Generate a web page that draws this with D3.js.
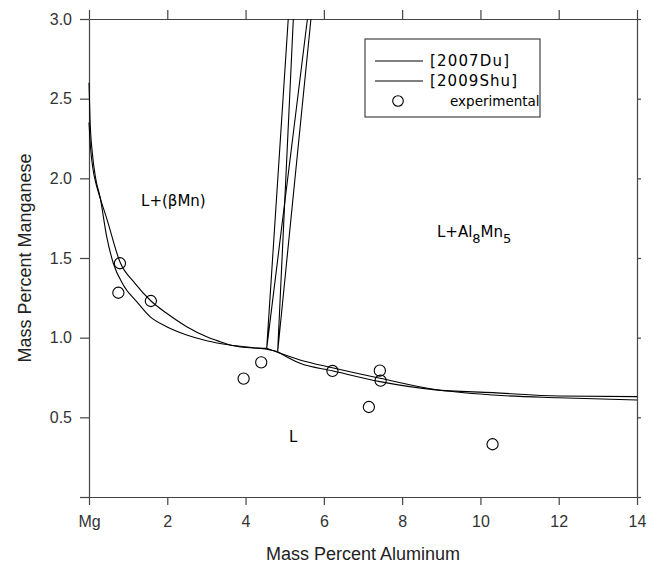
<!DOCTYPE html>
<html>
<head>
<meta charset="utf-8">
<script src="https://cdn.jsdelivr.net/npm/d3@7"></script>
<style>
  body { margin: 0; background: #fff; }
</style>
</head>
<body>
<div id="chart"></div>
<script>
var width = 658;
var height = 568;

// axis ticks
var xTicks = [0, 2, 4, 6, 8, 10, 12, 14];
var yTicks = [0, 0.5, 1.0, 1.5, 2.0, 2.5, 3.0];

// liquidus, L / L+(bMn) side
var duLeft = [[0, 2.35], [0.04, 2.19], [0.1, 2.06], [0.18, 1.965], [0.3, 1.865], [0.45, 1.75],
  [0.792, 1.475], [1.175, 1.341], [1.584, 1.230], [1.985, 1.153], [2.496, 1.069], [3.007, 1.006],
  [3.347, 0.975], [3.602, 0.954], [4.198, 0.935], [4.54, 0.933]];
var shuLeft = [[0, 2.60], [0.026, 2.37], [0.085, 2.16], [0.17, 2.0], [0.281, 1.885], [0.452, 1.634],
  [0.621, 1.467], [0.876, 1.331], [1.219, 1.226], [1.558, 1.132], [1.985, 1.069], [2.496, 1.017],
  [3.007, 0.981], [3.602, 0.954], [4.198, 0.937], [4.54, 0.927], [4.82, 0.912]];

// liquidus, L / L+Al8Mn5 side
var duRight = [[4.54, 0.933], [5.391, 0.860], [6.216, 0.811], [7.435, 0.745], [8.8, 0.676],
  [10.33, 0.640], [12, 0.623], [14, 0.609]];
var shuRight = [[4.82, 0.912], [5.391, 0.839], [6.216, 0.792], [7.435, 0.724], [8.8, 0.674],
  [10.33, 0.655], [12, 0.634], [14, 0.630]];

// three phase triangles
var duTie = [[5.09, 3.0], [4.54, 0.933], [5.58, 3.0]];
var shuTie = [[5.22, 3.0], [4.82, 0.912], [5.67, 3.0]];

// experimental points
var expAl = [0.79, 0.75, 1.58, 4.40, 3.95, 6.22, 7.43, 7.45, 7.15, 10.31];
var expMn = [1.467, 1.282, 1.230, 0.845, 0.743, 0.791, 0.793, 0.730, 0.565, 0.331];

var legendNames = ["[2007Du]", "[2009Shu]", "experimental"];

var svg = d3.select("#chart").append("svg")
  .attr("width", width)
  .attr("height", height)
  .style("font-family", "'Liberation Sans', Arial, sans-serif")

var x = d3.scaleLinear().domain([0, 14]).range([89, 637])
var y = d3.scaleLinear().domain([0, 3.0]).range([497, 19])

// axes (frame)
var axisColor = "#444";

svg.append("g")
  .attr("transform", "translate(0," + y(0) + ")")
  .call(d3.axisBottom(x).tickValues(xTicks).tickSize(8).tickSizeOuter(0).tickPadding(11)
    .tickFormat(function(d) { return d === 0 ? "Mg" : d }))
svg.append("g")
  .attr("transform", "translate(0," + y(3.0) + ")")
  .call(d3.axisTop(x).tickValues(xTicks).tickSize(9).tickSizeOuter(0).tickFormat(""))
svg.append("g")
  .attr("transform", "translate(" + x(0) + ",0)")
  .call(d3.axisLeft(y).tickValues(yTicks).tickSize(9).tickSizeOuter(0).tickPadding(8)
    .tickFormat(function(d) { return d === 0 ? "" : d3.format(".1f")(d) }))
svg.append("g")
  .attr("transform", "translate(" + x(14) + ",0)")
  .call(d3.axisRight(y).tickValues(yTicks).tickSize(4).tickSizeOuter(0).tickFormat(""))

svg.selectAll(".domain, .tick line")
  .attr("stroke", axisColor)
  .attr("stroke-width", 1.2)
svg.selectAll(".tick text")
  .attr("font-family", "'Liberation Sans', Arial, sans-serif")
  .attr("font-size", "16px")
  .attr("fill", "#333")

// axis titles
svg.append("text")
  .attr("x", (x(0) + x(14)) / 2)
  .attr("y", 560)
  .attr("text-anchor", "middle")
  .attr("font-size", "18px")
  .attr("fill", "#222")
  .text("Mass Percent Aluminum")

svg.append("text")
  .attr("transform", "translate(31," + (y(0) + y(3)) / 2 + ") rotate(-90)")
  .attr("text-anchor", "middle")
  .attr("font-size", "18px")
  .attr("fill", "#222")
  .text("Mass Percent Manganese")

// curves
var line = d3.line()
  .x(function(d) { return x(d[0]) })
  .y(function(d) { return y(d[1]) })
  .curve(d3.curveMonotoneX)
var straight = d3.line()
  .x(function(d) { return x(d[0]) })
  .y(function(d) { return y(d[1]) })

var curves = [duLeft, shuLeft, duRight, shuRight];
svg.selectAll("path.liq")
  .data(curves)
  .enter()
  .append("path")
  .attr("class", "liq")
  .attr("d", line)
  .attr("fill", "none")
  .attr("stroke", "#000")
  .attr("stroke-width", 1.1)

svg.selectAll("path.tie")
  .data([duTie, shuTie])
  .enter()
  .append("path")
  .attr("class", "tie")
  .attr("d", straight)
  .attr("fill", "none")
  .attr("stroke", "#000")
  .attr("stroke-width", 1.1)

svg.selectAll("circle.exp")
  .data(expAl)
  .enter()
  .append("circle")
  .attr("class", "exp")
  .attr("cx", function(d) { return x(d) })
  .attr("cy", function(d, i) { return y(expMn[i]) })
  .attr("r", 5.6)
  .attr("fill", "none")
  .attr("stroke", "#000")
  .attr("stroke-width", 1.1)

// phase labels
var labelFont = "'DejaVu Sans', sans-serif";
svg.append("text")
  .attr("x", x(1.33))
  .attr("y", y(1.826))
  .attr("font-family", labelFont)
  .attr("font-size", "15px")
  .text("L+(βMn)")

var t = svg.append("text")
  .attr("x", x(8.89))
  .attr("y", y(1.632))
  .attr("font-family", labelFont)
  .attr("font-size", "15px")
t.append("tspan").text("L+Al")
t.append("tspan").attr("dy", 6).attr("font-size", "13px").text("8")
t.append("tspan").attr("dy", -6).text("Mn")
t.append("tspan").attr("dy", 6).attr("font-size", "13px").text("5")

svg.append("text")
  .attr("x", x(5.11))
  .attr("y", y(0.345))
  .attr("font-family", labelFont)
  .attr("font-size", "15px")
  .text("L")

// legend
svg.append("rect")
  .attr("x", 365)
  .attr("y", 39)
  .attr("width", 175)
  .attr("height", 78)
  .attr("fill", "#fff")
  .attr("stroke", axisColor)
  .attr("stroke-width", 1.2)

legendNames.forEach(function(name, i) {
  var ly = 61 + i * 20;
  if (i < 2) {
    svg.append("line")
      .attr("x1", 375).attr("x2", 423)
      .attr("y1", ly).attr("y2", ly)
      .attr("stroke", "#000")
      .attr("stroke-width", 1.1)
  } else {
    svg.append("circle")
      .attr("cx", 398).attr("cy", ly)
      .attr("r", 5.3)
      .attr("fill", "none")
      .attr("stroke", "#000")
      .attr("stroke-width", 1.1)
  }
  var lt = svg.append("text")
    .attr("x", i < 2 ? 430 : 450)
    .attr("y", ly + 5)
    .attr("font-family", labelFont)
    .attr("font-size", i < 2 ? "15px" : "13.5px")
    .text(name)
  if (i < 2) {
    lt.attr("textLength", [79, 87][i]).attr("lengthAdjust", "spacing")
  }
})
</script>
</body>
</html>
